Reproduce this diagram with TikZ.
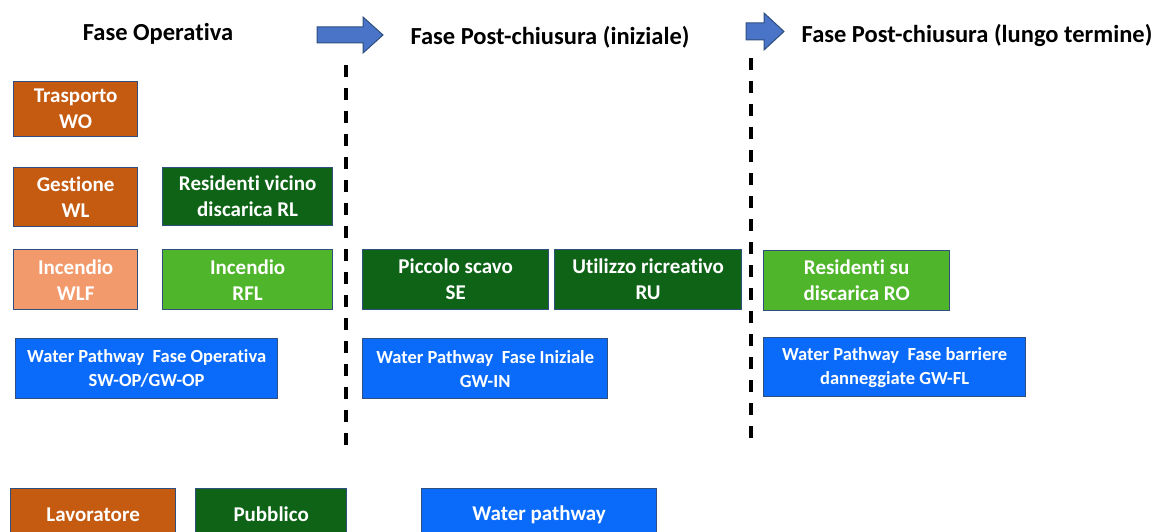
\documentclass[tikz,border=0pt]{standalone}
\usepackage{fontspec}
\setmainfont{Carlito}[Ligatures=NoCommon]
\begin{document}
\begin{tikzpicture}[x=1pt,y=-1pt,
  box/.style={draw=boxline, line width=1.3pt, anchor=north west, inner sep=0pt,
    text=white, align=center, font=\bfseries\fontsize{21}{26}\selectfont},
  wbox/.style={box, fill=wpblue, font=\bfseries\fontsize{18.5}{24}\selectfont},
  lbox/.style={box, font=\bfseries\fontsize{21}{24}\selectfont, minimum height=52pt},
  title/.style={font=\bfseries\fontsize{24.5}{26}\selectfont, text=black, inner sep=0pt},
  phase/.style={line width=3.4pt, dash pattern=on 12pt off 11pt},
  blockarrow/.style={fill=arrowblue, draw=boxline, line width=1pt}
]
\definecolor{boxline}{HTML}{2F4F7F}
\definecolor{workorange}{HTML}{C55A11}
\definecolor{fireorange}{HTML}{F29A6C}
\definecolor{pubgreen}{HTML}{0E6316}
\definecolor{firegreen}{HTML}{4FB52A}
\definecolor{wpblue}{HTML}{0A6BFA}
\definecolor{arrowblue}{HTML}{4A74C8}
\clip (0,0) rectangle (1154,532);
\fill[white] (0,0) rectangle (1154,532);

% phase titles
\node[title] (t1) at (158,34) {Fase Operativa};
\node[title] (t2) at (550,37) {Fase Post-chiusura (iniziale)};
\node[title] (t3) at (977,35) {Fase Post-chiusura (lungo termine)};

% block arrows between phases
\draw[blockarrow] (317,27) -- (363,27) -- (363,17) -- (383,35) -- (363,53) -- (363,43) -- (317,43) -- cycle;
\draw[blockarrow] (746,23) -- (764,23) -- (764,13) -- (784,31.5) -- (764,50) -- (764,40) -- (746,40) -- cycle;

% phase separators
\coordinate (s1a) at (346,65);
\coordinate (s1b) at (346,456);
\coordinate (s2a) at (751,58);
\coordinate (s2b) at (751,446);
\draw[phase] (s1a) -- (s1b);
\draw[phase] (s2a) -- (s2b);

% operational phase
\node[box, fill=workorange, minimum width=124pt, minimum height=55pt] (wo) at (13,81) {Trasporto\\WO};
\node[box, fill=workorange, minimum width=124pt, minimum height=59pt] (wl) at (13,167) {Gestione\\WL};
\node[box, fill=pubgreen, minimum width=170pt, minimum height=58pt] (rl) at (162,167) {Residenti vicino\\discarica RL};
\node[box, fill=fireorange, minimum width=124pt, minimum height=60pt] (wlf) at (13,249) {Incendio\\WLF};
\node[box, fill=firegreen, minimum width=170pt, minimum height=60pt] (rfl) at (162,249) {Incendio\\RFL};
\node[wbox, minimum width=262pt, minimum height=60pt] (gwop) at (15,338) {Water Pathway\ \ Fase Operativa\\SW-OP/GW-OP};

% initial post-closure phase
\node[box, fill=pubgreen, minimum width=186pt, minimum height=60pt] (se) at (362,249) {Piccolo scavo\\SE};
\node[box, fill=pubgreen, minimum width=187pt, minimum height=60pt] (ru) at (554,249) {Utilizzo ricreativo\\RU};
\node[wbox, minimum width=245pt, minimum height=60pt] (gwin) at (362,338) {Water Pathway\ \ Fase Iniziale\\GW-IN};

% long-term post-closure phase
\node[box, fill=firegreen, minimum width=186pt, minimum height=60pt] (ro) at (763,250) {Residenti su\\discarica RO};
\node[wbox, minimum width=262pt, minimum height=59pt] (gwfl) at (763,337) {Water Pathway\ \ Fase barriere\\danneggiate GW-FL};

% legend
\node[lbox, fill=workorange, minimum width=165pt] (lw) at (10,488) {Lavoratore};
\node[lbox, fill=pubgreen, minimum width=151pt] (lp) at (195,488) {Pubblico};
\node[lbox, fill=wpblue, minimum width=235pt] (lwp) at (421,488) {Water pathway};
\end{tikzpicture}
\end{document}
